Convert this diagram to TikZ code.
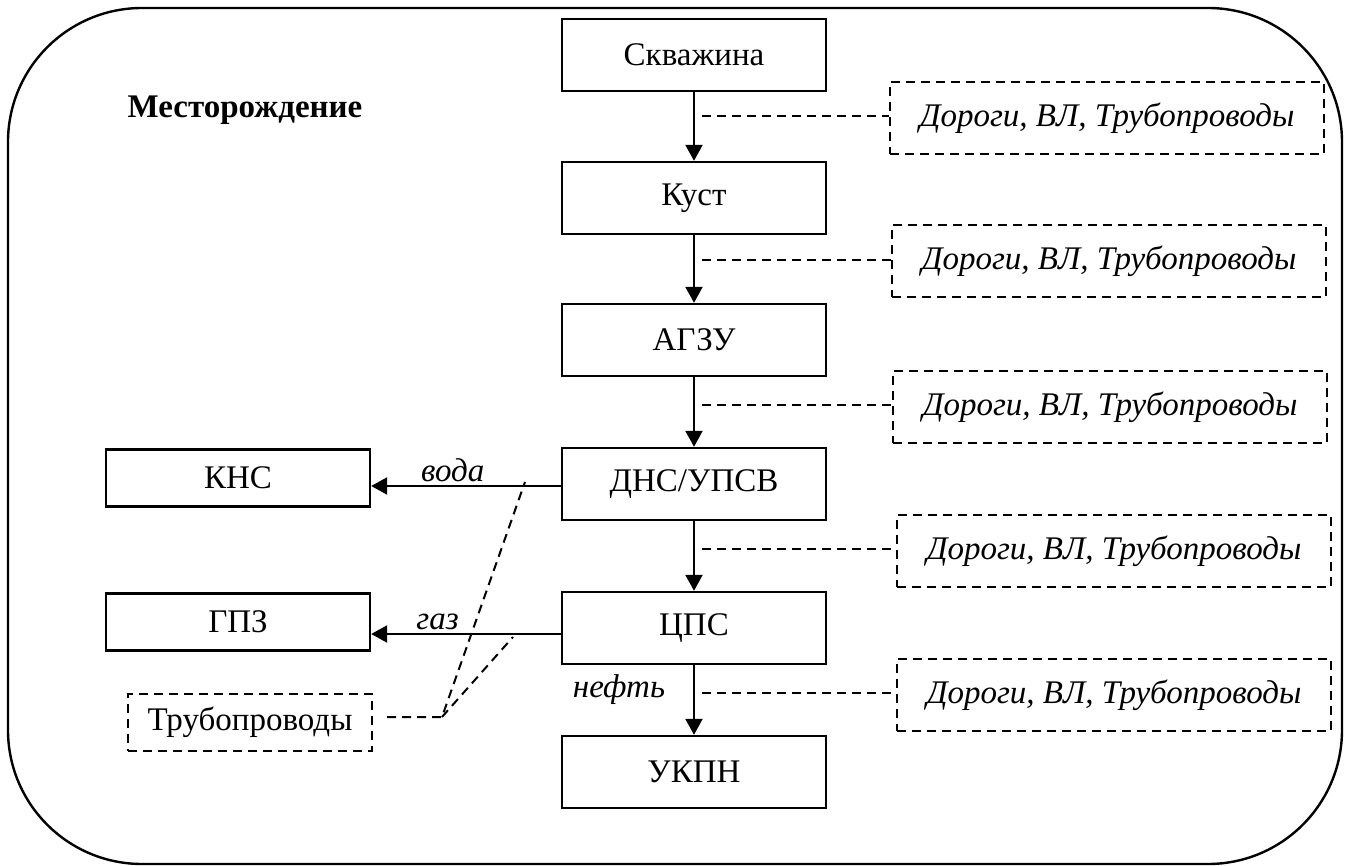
\documentclass[tikz,border=0pt]{standalone}
\usepackage{fontspec}
\setmainfont{Liberation Serif}
\usetikzlibrary{arrows.meta}
\begin{document}
\begin{tikzpicture}[x=0.5pt,y=-0.5pt,
  txt/.style={font=\fontsize{16.5}{20}\selectfont},
  stage/.style={txt, draw, line width=1.2pt, minimum width=132pt, minimum height=36pt, inner sep=0pt},
  side/.style={txt, draw, line width=1.2pt, minimum width=132pt, minimum height=28.5pt, inner sep=0pt},
  infra/.style={txt, font=\fontsize{16.5}{20}\selectfont\itshape, draw, line width=1pt,
    dash pattern=on 4.5pt off 3pt, minimum width=217pt, minimum height=36pt, inner sep=0pt},
  link/.style={line width=1pt, dash pattern=on 4.5pt off 3pt},
  flow/.style={line width=1.2pt, -{Triangle[width=8.5pt,length=8pt]}},
  lbl/.style={font=\fontsize{16.5}{20}\selectfont\itshape}]
\useasboundingbox (0,0) rectangle (1346,866);

% field boundary
\draw[line width=1.2pt, rounded corners=67pt] (8,8) rectangle (1342,864);
\node[font=\fontsize{16.5}{20}\selectfont\bfseries] (field) at (245,110) {Месторождение};

% main chain
\node[stage] (skv)  at (694,55)  {Скважина};
\node[stage] (kust) at (694,198) {Куст};
\node[stage] (agzu) at (694,340) {АГЗУ};
\node[stage] (dns)  at (694,484) {ДНС/УПСВ};
\node[stage] (cps)  at (694,628) {ЦПС};
\node[stage] (ukpn) at (694,772) {УКПН};

\draw[flow] (skv)  -- (kust);
\draw[flow] (kust) -- (agzu);
\draw[flow] (agzu) -- (dns);
\draw[flow] (dns)  -- (cps);
\draw[flow] (cps)  -- (ukpn);

% infrastructure boxes
\node[infra] (i1) at (1107,118) {Дороги, ВЛ, Трубопроводы};
\node[infra] (i2) at (1109,261) {Дороги, ВЛ, Трубопроводы};
\node[infra] (i3) at (1110,407) {Дороги, ВЛ, Трубопроводы};
\node[infra] (i4) at (1114,551) {Дороги, ВЛ, Трубопроводы};
\node[infra] (i5) at (1114,695) {Дороги, ВЛ, Трубопроводы};

\coordinate (c1) at (702,116);
\coordinate (c2) at (702,260);
\coordinate (c3) at (702,405);
\coordinate (c4) at (702,549);
\coordinate (c5) at (702,693);
\foreach \k in {1,...,5} \draw[link] (c\k) -- (c\k -| i\k.west);

% side outputs
\node[side] (kns) at (238,478) {КНС};
\node[side] (gpz) at (238,622) {ГПЗ};
\draw[flow] ([yshift=-1pt]dns.west) -- ([yshift=-1pt]dns.west -| kns.east)
  node[pos=0.57, above=-2pt, lbl] {вода};
\draw[flow] ([yshift=-3pt]cps.west) -- ([yshift=-3pt]cps.west -| gpz.east)
  node[pos=0.65, above=-2pt, lbl] {газ};
\node[lbl] (oil) at (619,690) {нефть};

% pipelines
\node[txt, draw, line width=1pt, dash pattern=on 4.5pt off 3pt, minimum width=122pt,
  minimum height=28.5pt, inner sep=0pt] (pipe) at (250,722) {Трубопроводы};
\coordinate (p0) at (387,717);
\coordinate (pj) at (442,717);
\coordinate (pw) at (525,482);
\coordinate (pg) at (513,637);
\draw[link] (p0) -- (pj) -- (pw);
\draw[link] (pj) -- (pg);
\end{tikzpicture}
\end{document}
